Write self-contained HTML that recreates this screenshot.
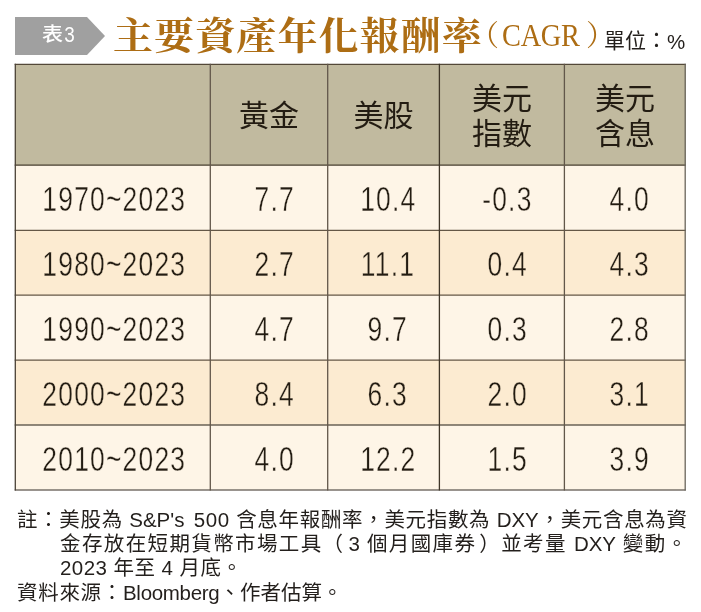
<!DOCTYPE html>
<html lang="zh-Hant">
<head>
<meta charset="utf-8">
<title>主要資產年化報酬率</title>
<style>
html,body{margin:0;padding:0;background:#fff;}
body{width:701px;height:612px;position:relative;overflow:hidden;
  font-family:"Liberation Sans","Noto Sans CJK TC","Noto Sans CJK SC",sans-serif;color:#231f1c;}
.abs{position:absolute;}
#tag{left:0;top:0;width:120px;height:70px;}
#tagtxt{left:42px;top:16px;font-size:21px;line-height:34px;color:#fff;white-space:nowrap;font-weight:500;transform:scaleY(0.92);font-family:"Noto Sans CJK TC","Noto Sans CJK SC",sans-serif;}
#tagtxt b{font-family:"Liberation Sans",sans-serif;font-weight:400;font-size:23px;display:inline-block;transform:scaleX(0.82);position:relative;top:0.5px;}
#title{left:113px;top:9.5px;font-family:"Noto Serif CJK TC","Noto Serif CJK SC",serif;font-weight:700;
  font-size:40px;line-height:50px;color:#ad6d14;white-space:nowrap;letter-spacing:1.1px;transform:scaleY(0.94);transform-origin:0 0;}
.tl{font-family:"Liberation Serif","Noto Serif CJK TC","Noto Serif CJK SC",serif;color:#ad6d14;font-size:29px;line-height:40px;white-space:nowrap;}
.unit{left:604px;top:27px;font-size:21px;line-height:28px;color:#231f1c;white-space:nowrap;}
/* table */
.row{position:absolute;left:15px;width:671px;}
.cell{position:absolute;display:flex;align-items:center;justify-content:center;text-align:center;}
.hd{padding-top:1px;box-sizing:border-box;font-family:"Liberation Sans","Noto Sans CJK TC","Noto Sans CJK SC",sans-serif;font-size:30px;line-height:35px;color:#231c12;}
.num{font-family:"Liberation Sans",sans-serif;font-size:35px;color:#231c12;}
.num span{display:inline-block;transform:scaleX(0.755);letter-spacing:1.6px;-webkit-text-stroke:0.4px #fef5e7;}
.r2 .num span,.r4 .num span{-webkit-text-stroke-color:#fcebd1;}
.tr{position:absolute;left:0;width:701px;height:64px;}
.r1{top:166px}.r2{top:231px}.r3{top:296px}.r4{top:361px}.r5{top:426px}
.tr .cell{top:0;height:64px;padding-top:1px;box-sizing:border-box;}
.c1{left:16px;width:194px;padding-left:3px;}
.c2{left:211px;width:116px;padding-left:11px;}
.c3{left:328px;width:111px;padding-left:9px;}
.c4{left:440px;width:124px;padding-left:11px;}
.c5{left:565px;width:120px;padding-left:9px;}
#note{left:17px;top:507.8px;font-size:20.5px;line-height:24.3px;color:#231f1c;width:670px;}
#note .j{text-align:justify;text-align-last:justify;}
#note p{margin:0;}
.ind{padding-left:43px;}
</style>
</head>
<body>
<svg class="abs" id="tag" width="120" height="70" viewBox="0 0 120 70"><polygon points="15,17 87,17 105,36 87,55 15,55" fill="#a0a0a0"/></svg>
<div class="abs" id="tagtxt">表<b>3</b></div>
<div class="abs" id="title">主要資產年化報酬率</div>
<div class="abs tl" style="left:470px;top:16px">（</div>
<div class="abs tl" style="left:502px;top:16px;font-size:31.5px;letter-spacing:-0.3px;transform:scaleX(0.9);transform-origin:0 0">CAGR</div>
<div class="abs tl" style="left:586px;top:16px">）</div>
<div class="abs unit">單位</div>
<div class="abs unit" style="left:646px;top:26px">：</div>
<div class="abs unit" style="left:667px;top:27.5px;font-size:20.5px">%</div>

<div class="row" style="top:64px;height:101px;background:#c1ba9f"></div>
<div class="row" style="top:165px;height:65px;background:#fef5e7"></div>
<div class="row" style="top:230px;height:65px;background:#fcebd1"></div>
<div class="row" style="top:295px;height:65px;background:#fef5e7"></div>
<div class="row" style="top:360px;height:65px;background:#fcebd1"></div>
<div class="row" style="top:425px;height:65px;background:#fef5e7"></div>


<svg class="abs" style="left:0;top:0" width="701" height="612" viewBox="0 0 701 612">
<line x1="14.7" y1="64.3" x2="685.8" y2="64.3" stroke="#534838" stroke-width="1.3"/>
<line x1="14.7" y1="165.2" x2="685.8" y2="165.2" stroke="#463c2e" stroke-width="1.3"/>
<line x1="14.7" y1="230.4" x2="685.8" y2="230.4" stroke="#645746" stroke-width="1.3"/>
<line x1="14.7" y1="295.2" x2="685.8" y2="295.2" stroke="#645746" stroke-width="1.3"/>
<line x1="14.7" y1="360.2" x2="685.8" y2="360.2" stroke="#645746" stroke-width="1.3"/>
<line x1="14.7" y1="424.9" x2="685.8" y2="424.9" stroke="#6a6256" stroke-width="1.5"/>
<line x1="14.7" y1="490.0" x2="685.8" y2="490.0" stroke="#77716a" stroke-width="1.5"/>
<line x1="15.3" y1="63.7" x2="15.3" y2="490.6" stroke="#4a4236" stroke-width="1.3"/>
<line x1="210.3" y1="63.7" x2="210.3" y2="490.6" stroke="#62574a" stroke-width="1.3"/>
<line x1="327.7" y1="63.7" x2="327.7" y2="490.6" stroke="#62574a" stroke-width="1.3"/>
<line x1="439.4" y1="63.7" x2="439.4" y2="490.6" stroke="#3f3628" stroke-width="1.3"/>
<line x1="564.4" y1="63.7" x2="564.4" y2="490.6" stroke="#62574a" stroke-width="1.3"/>
<line x1="685.2" y1="63.7" x2="685.2" y2="490.6" stroke="#6a665e" stroke-width="1.3"/>
</svg>
<!-- header -->
<div class="cell hd" style="left:211px;top:65px;width:116px;height:100px">黃金</div>
<div class="cell hd" style="left:328px;top:65px;width:111px;height:100px">美股</div>
<div class="cell hd" style="left:440px;top:65px;width:124px;height:100px">美元<br>指數</div>
<div class="cell hd" style="left:565px;top:65px;width:120px;height:100px">美元<br>含息</div>

<!-- rows -->
<div class="tr r1">
<div class="cell num c1"><span>1970~2023</span></div>
<div class="cell num c2"><span>7.7</span></div>
<div class="cell num c3"><span>10.4</span></div>
<div class="cell num c4"><span>-0.3</span></div>
<div class="cell num c5"><span>4.0</span></div>
</div>
<div class="tr r2">
<div class="cell num c1"><span>1980~2023</span></div>
<div class="cell num c2"><span>2.7</span></div>
<div class="cell num c3"><span>11.1</span></div>
<div class="cell num c4"><span>0.4</span></div>
<div class="cell num c5"><span>4.3</span></div>
</div>
<div class="tr r3">
<div class="cell num c1"><span>1990~2023</span></div>
<div class="cell num c2"><span>4.7</span></div>
<div class="cell num c3"><span>9.7</span></div>
<div class="cell num c4"><span>0.3</span></div>
<div class="cell num c5"><span>2.8</span></div>
</div>
<div class="tr r4">
<div class="cell num c1"><span>2000~2023</span></div>
<div class="cell num c2"><span>8.4</span></div>
<div class="cell num c3"><span>6.3</span></div>
<div class="cell num c4"><span>2.0</span></div>
<div class="cell num c5"><span>3.1</span></div>
</div>
<div class="tr r5">
<div class="cell num c1"><span>2010~2023</span></div>
<div class="cell num c2"><span>4.0</span></div>
<div class="cell num c3"><span>12.2</span></div>
<div class="cell num c4"><span>1.5</span></div>
<div class="cell num c5"><span>3.9</span></div>
</div>

<div class="abs" id="note">
<p class="j">註：美股為 S&amp;P's <span style="margin-left:3px;letter-spacing:0.6px">500</span> 含息年報酬率，美元指數為 DXY，美元含息為資</p>
<p class="ind j">金存放在短期貨幣市場工具（<span style="margin-left:4px">3</span> 個月國庫券<span style="margin-left:3px">）</span>並考量 DXY 變動。</p>
<p class="ind" style="letter-spacing:0.45px">2023 年至 4 月底。</p>
<p><span style="letter-spacing:0.7px">資料來源：</span><span style="letter-spacing:-0.3px">Bloomberg</span>、作者估算。</p>
</div>
</body>
</html>
